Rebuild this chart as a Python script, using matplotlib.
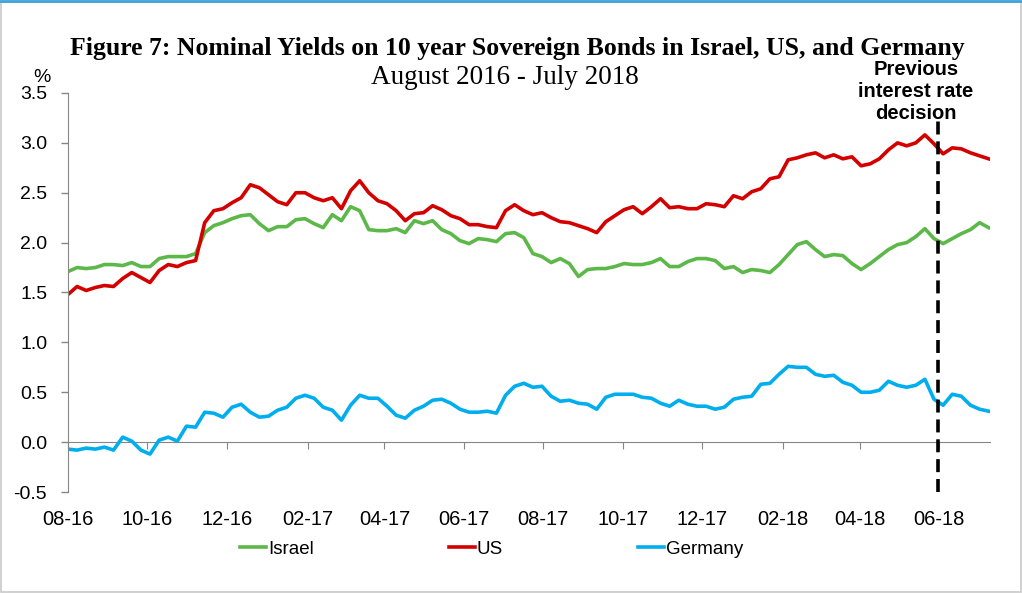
import matplotlib
matplotlib.use("Agg")
import matplotlib.pyplot as plt
import matplotlib.dates as mdates
from matplotlib.patches import Rectangle
from matplotlib.lines import Line2D
import pandas as pd

# ---------------- data (weekly readings, %) ----------------
start_date = "2016-08-01"
israel = [1.71, 1.75, 1.74, 1.75, 1.78, 1.78, 1.77, 1.80, 1.76, 1.76, 1.84, 1.86, 1.86, 1.86, 1.89, 2.10, 2.17, 2.20, 2.24, 2.27, 2.28,
          2.19, 2.12, 2.16, 2.16, 2.23, 2.24, 2.19, 2.15, 2.28, 2.22, 2.36, 2.32, 2.13, 2.12, 2.12, 2.14, 2.10, 2.22, 2.19, 2.22,
          2.13, 2.09, 2.02, 1.99, 2.04, 2.03, 2.01, 2.09, 2.10, 2.05, 1.89, 1.86, 1.80, 1.84, 1.79, 1.66, 1.73, 1.74, 1.74, 1.76,
          1.79, 1.78, 1.78, 1.80, 1.84, 1.76, 1.76, 1.81, 1.84, 1.84, 1.82, 1.74, 1.76, 1.70, 1.73, 1.72, 1.70, 1.78, 1.88, 1.98, 2.01,
          1.93, 1.86, 1.88, 1.87, 1.79, 1.73, 1.79, 1.86, 1.93, 1.98, 2.00, 2.06, 2.14, 2.04, 1.99, 2.04, 2.09, 2.13, 2.20, 2.15]
us = [1.48, 1.56, 1.52, 1.55, 1.57, 1.56, 1.64, 1.70, 1.65, 1.60, 1.72, 1.78, 1.76, 1.80, 1.82, 2.20, 2.32, 2.34, 2.40, 2.45, 2.58,
      2.55, 2.48, 2.41, 2.38, 2.50, 2.50, 2.45, 2.42, 2.45, 2.34, 2.52, 2.62, 2.50, 2.42, 2.39, 2.32, 2.22, 2.29, 2.30, 2.37,
      2.33, 2.27, 2.24, 2.18, 2.18, 2.16, 2.15, 2.32, 2.38, 2.32, 2.28, 2.30, 2.25, 2.21, 2.20, 2.17, 2.14, 2.10, 2.21, 2.27,
      2.33, 2.36, 2.29, 2.36, 2.44, 2.35, 2.36, 2.34, 2.34, 2.39, 2.38, 2.36, 2.47, 2.44, 2.51, 2.54, 2.64, 2.66, 2.83, 2.85, 2.88,
      2.90, 2.85, 2.88, 2.84, 2.86, 2.77, 2.79, 2.84, 2.93, 3.00, 2.97, 3.00, 3.08, 2.99, 2.89, 2.95, 2.94, 2.90, 2.87, 2.84]
germany = [-0.07, -0.08, -0.06, -0.07, -0.05, -0.08, 0.05, 0.01, -0.08, -0.12, 0.02, 0.05, 0.01, 0.16, 0.15, 0.30, 0.29, 0.25, 0.35, 0.38, 0.30,
           0.25, 0.26, 0.32, 0.35, 0.44, 0.47, 0.44, 0.35, 0.32, 0.22, 0.37, 0.47, 0.44, 0.44, 0.36, 0.27, 0.24, 0.32, 0.36, 0.42,
           0.43, 0.39, 0.33, 0.30, 0.30, 0.31, 0.29, 0.47, 0.56, 0.59, 0.55, 0.56, 0.46, 0.41, 0.42, 0.39, 0.38, 0.33, 0.45, 0.48,
           0.48, 0.48, 0.45, 0.44, 0.39, 0.36, 0.42, 0.38, 0.36, 0.36, 0.33, 0.35, 0.43, 0.45, 0.46, 0.58, 0.59, 0.68, 0.76, 0.75, 0.75,
           0.68, 0.66, 0.67, 0.60, 0.57, 0.50, 0.50, 0.52, 0.61, 0.57, 0.55, 0.57, 0.63, 0.43, 0.37, 0.48, 0.46, 0.37, 0.33, 0.31]
series_names = ["Israel", "US", "Germany"]
series_colors = ["#5DB84A", "#D40000", "#00AEEF"]
decision_date = "2018-05-31"
decision_top = 3.23
yticks = [-0.5, 0.0, 0.5, 1.0, 1.5, 2.0, 2.5, 3.0, 3.5]
ytick_labels = ["-0.5", "0.0", "0.5", "1.0", "1.5", "2.0", "2.5", "3.0", "3.5"]
x_start, x_end = "2016-08-01", "2018-07-10"

dates = pd.date_range(start_date, periods=len(israel), freq="7D")

SANS = ["Liberation Sans", "DejaVu Sans"]
SERIF = ["Liberation Serif", "DejaVu Serif"]
GREY = "#868686"

fig = plt.figure(figsize=(10.22, 5.93), dpi=100)
ax = fig.add_axes([0.0665, 0.1703, 0.9022, 0.6729])

lines = []
for vals, name, col in zip([israel, us, germany], series_names, series_colors):
    ln, = ax.plot(dates, vals, color=col, lw=2.6, label=name, solid_joinstyle="round")
    lines.append(ln)

ax.set_xlim(pd.Timestamp(x_start), pd.Timestamp(x_end))
ax.set_ylim(-0.5, 3.5)
ax.set_yticks(yticks)
ax.set_yticklabels(ytick_labels, family=SANS, fontsize=14)
ax.tick_params(axis="y", direction="out", length=5, color=GREY, width=1, pad=10)

for s in ["top", "right", "bottom"]:
    ax.spines[s].set_visible(False)
ax.spines["left"].set_color(GREY)

loc = mdates.MonthLocator(bymonth=[2, 4, 6, 8, 10, 12])
ax.xaxis.set_major_locator(loc)
ax.xaxis.set_major_formatter(mdates.DateFormatter("%m-%y"))
ax.tick_params(axis="x", length=0, pad=13)
for lab in ax.get_xticklabels():
    lab.set_family(SANS)
    lab.set_fontsize(14.5)

# zero line with tick marks
sec = ax.secondary_xaxis(0.125)
sec.xaxis.set_major_locator(mdates.MonthLocator(bymonth=[2, 4, 6, 8, 10, 12]))
sec.spines["bottom"].set_color(GREY)
sec.tick_params(axis="x", direction="out", length=5, color=GREY, labelbottom=False)

# decision line
dd = pd.Timestamp(decision_date)
ax.plot([dd, dd], [-0.5, decision_top], color="black", lw=2.6, dashes=(3.6, 1.9), clip_on=False)

fig.text(0.896, 0.845, "Previous\ninterest rate\ndecision", ha="center", va="center",
         family=SANS, fontweight="bold", fontsize=14.5, linespacing=1.2)

fig.text(0.506, 0.919, "Figure 7: Nominal Yields on 10 year Sovereign Bonds in Israel, US, and Germany",
         ha="center", va="center", family=SERIF, fontweight="bold", fontsize=18.5)
fig.text(0.494, 0.870, "August 2016 - July 2018", ha="center", va="center", family=SERIF, fontsize=19.5)
fig.text(0.041, 0.870, "%", ha="center", va="center", family=SANS, fontsize=14)

fig.legend(handles=lines, loc="center", bbox_to_anchor=(0.481, 0.074), ncol=3, frameon=False,
           prop={"family": SANS, "size": 13.5}, handlelength=1.4, handletextpad=0.1, columnspacing=7.2)

# frame
fig.patches.append(Rectangle((0.001, 0.001), 0.998, 0.996, transform=fig.transFigure, fill=False,
                             edgecolor="#C8C8C8", lw=1.2))
fig.lines.append(Line2D([0, 1], [0.998, 0.998], transform=fig.transFigure, color="#3BA3D8", lw=2))

fig.savefig("out.png", dpi=100)
